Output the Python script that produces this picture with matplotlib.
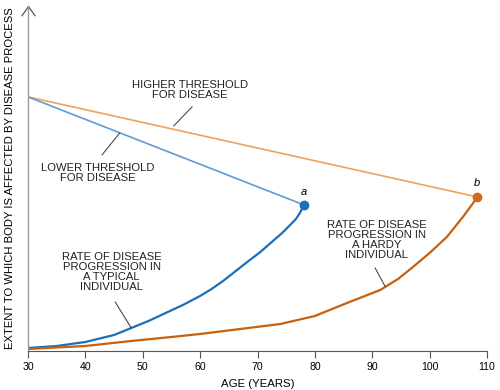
import numpy as np
import matplotlib
matplotlib.use("Agg")
import matplotlib.pyplot as plt
from matplotlib.path import Path

plt.rcParams['font.family'] = ['Liberation Sans', 'DejaVu Sans']
plt.rcParams['font.size'] = 8.1

# ages (years) and extent values (arbitrary units)
typical_age = [30, 35, 40, 45, 48, 51, 54, 57, 60, 62, 64, 66, 68, 70.5, 72.7, 74.3, 75.7, 76.7, 77.4, 78.1]
typical_ext = [3, 5, 9, 16, 23, 30, 38, 46, 55, 62, 70, 79, 88, 99, 110, 118, 126, 132, 138, 146]

hardy_age = [30, 35, 40, 48, 55, 60, 67, 74, 80, 85.6, 91.4, 94.5, 97.1, 100, 103, 105.8, 107.6, 108.3]
hardy_ext = [2, 3.5, 5, 10, 14, 17, 22, 27, 35, 48, 61, 72, 84, 98, 114, 134, 148, 154]

lower_age = [30, 78.1]
lower_ext = [254, 146]
higher_age = [30, 108.3]
higher_ext = [254, 154]

xticks = [30, 40, 50, 60, 70, 80, 90, 100, 110]

fig = plt.figure(figsize=(5, 3.9), dpi=100)
ax = fig.add_axes([0.056, 0.1, 0.918, 0.885])

ax.plot(higher_age, higher_ext, color='#f0a257', lw=1.2)
ax.plot(lower_age, lower_ext, color='#5f9bd6', lw=1.2)
ax.plot(typical_age, typical_ext, color='#1a6fba', lw=1.6)
ax.plot(hardy_age, hardy_ext, color='#c8600c', lw=1.6)
ax.plot(typical_age[-1], typical_ext[-1], 'o', color='#1a6fba', ms=6)
ax.plot(hardy_age[-1], hardy_ext[-1], 'o', color='#cc6a1c', ms=6)

ax.text(typical_age[-1], typical_ext[-1] + 13, 'a', style='italic', ha='center', va='center', fontsize=8)
ax.text(hardy_age[-1], hardy_ext[-1] + 14, 'b', style='italic', ha='center', va='center', fontsize=8)

# callout labels with thin pointer lines
def callout(txt, pos, p0, p1):
    ax.text(pos[0], pos[1], txt, ha='center', va='center', linespacing=1.0, color='#222222')
    ax.plot([p0[0], p1[0]], [p0[1], p1[1]], color='#333333', lw=0.7)

callout('HIGHER THRESHOLD\nFOR DISEASE', (58.2, 261), (58.6, 244), (55.4, 225))
callout('LOWER THRESHOLD\nFOR DISEASE', (42.2, 178), (42.9, 196), (46.0, 218))
callout('RATE OF DISEASE\nPROGRESSION IN\nA TYPICAL\nINDIVIDUAL', (44.6, 79), (45.2, 49), (48.0, 23))
callout('RATE OF DISEASE\nPROGRESSION IN\nA HARDY\nINDIVIDUAL', (90.8, 111), (90.5, 83), (92.2, 65))

ax.set_xlim(30, 110)
ax.set_ylim(0, 345)
ax.set_xticks(xticks)
ax.set_yticks([])
ax.tick_params(axis='x', direction='out', length=5, width=0.8, color='#555555', pad=3, labelsize=7.6)
ax.spines['top'].set_visible(False)
ax.spines['right'].set_visible(False)
ax.spines['left'].set_color('#9a9a9a')
ax.spines['left'].set_linewidth(1.0)
ax.spines['bottom'].set_color('#555555')
ax.spines['bottom'].set_linewidth(0.8)

# open arrowhead on top of the y axis
chevron = Path([(-0.7, -1), (0, 0), (0.7, -1)], [Path.MOVETO, Path.LINETO, Path.LINETO])
ax.plot([0], [1], transform=ax.transAxes, marker=chevron, ms=14, mfc='none',
        mec='#555555', mew=0.9, clip_on=False)

ax.set_xlabel('AGE (YEARS)', fontsize=8.2, labelpad=5)
ax.set_ylabel('EXTENT TO WHICH BODY IS AFFECTED BY DISEASE PROCESS', fontsize=8.1, labelpad=9)

fig.savefig('out.png', dpi=100)
